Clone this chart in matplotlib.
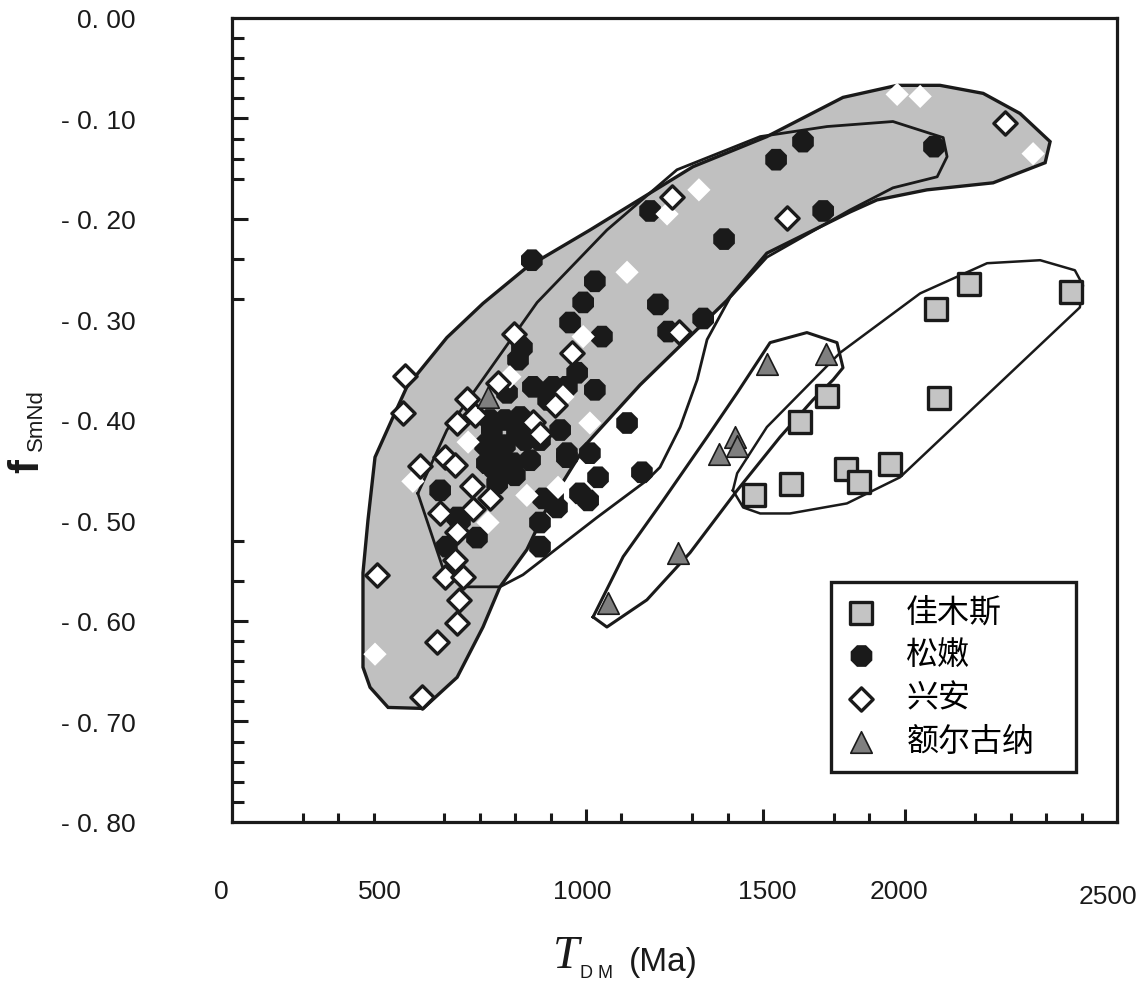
import matplotlib.pyplot as plt
from matplotlib.transforms import blended_transform_factory

plt.rcParams['font.family'] = ['Liberation Sans', 'DejaVu Sans']

# --- data (T_DM in Ma, fSmNd) ---
jiamusi_x = [2082, 2370, 1989, 1681, 1997, 1605, 1859, 1734, 1771, 1579, 1475]
jiamusi_y = [-0.265, -0.273, -0.290, -0.376, -0.378, -0.402, -0.444, -0.449, -0.462, -0.464, -0.475]

songnen_x = [1613, 1537, 1983, 1670, 1181, 1390, 847, 1025, 992, 1203,
             1331, 955, 1045, 1232, 819, 808, 975, 850, 907, 1025,
             777, 893, 814, 1116, 734, 805, 757, 720, 794, 946,
             1011, 1034, 1158, 588, 749, 879, 918, 1006, 644, 870,
             692, 607, 870, 636, 771, 828, 771, 842, 799, 743,
             715, 870, 927, 833, 729, 983, 907, 946, 946]
songnen_y = [-0.123, -0.141, -0.128, -0.192, -0.192, -0.220, -0.241, -0.262, -0.283, -0.285,
             -0.299, -0.303, -0.317, -0.312, -0.328, -0.340, -0.353, -0.367, -0.367, -0.370,
             -0.373, -0.380, -0.397, -0.403, -0.410, -0.413, -0.437, -0.443, -0.443, -0.433,
             -0.433, -0.457, -0.452, -0.470, -0.463, -0.478, -0.487, -0.480, -0.500, -0.502,
             -0.517, -0.526, -0.526, -0.497, -0.400, -0.420, -0.425, -0.440, -0.455, -0.450,
             -0.425, -0.420, -0.410, -0.410, -0.400, -0.473, -0.477, -0.367, -0.437]

# Xing'an diamonds: some drawn with outline, some plain white
xingan_x = [2184, 1243, 1568, 1263, 797, 960, 751, 664, 686, 636,
            912, 850, 870, 602, 630, 531, 678, 729, 681, 588,
            636, 630, 602, 653, 641, 636, 579, 537, 410, 489, 483]
xingan_y = [-0.104, -0.178, -0.199, -0.312, -0.314, -0.333, -0.363, -0.379, -0.395, -0.403,
            -0.385, -0.402, -0.414, -0.437, -0.445, -0.446, -0.466, -0.478, -0.489, -0.493,
            -0.511, -0.539, -0.556, -0.556, -0.579, -0.602, -0.621, -0.676, -0.554, -0.356, -0.393]
xingan_plain_x = [1879, 1944, 2263, 1319, 1229, 1116, 785, 935, 1011, 667, 511, 833, 921, 723, 404, 992]
xingan_plain_y = [-0.076, -0.078, -0.135, -0.171, -0.195, -0.253, -0.357, -0.377, -0.403, -0.422,
                  -0.461, -0.475, -0.467, -0.502, -0.633, -0.317]

eerguna_x = [1511, 1678, 1421, 1427, 1376, 1260, 1062, 723]
eerguna_y = [-0.344, -0.334, -0.417, -0.426, -0.434, -0.532, -0.582, -0.377]

# field outlines
gray_field_x = [540, 441, 390, 370, 370, 384, 404, 455, 494, 607, 709, 833, 1011, 1302, 1511, 1726,
                1879, 2000, 2122, 2226, 2311, 2297, 2150, 1963, 1822, 1746, 1511, 1398, 1322, 1153,
                1003, 890, 833, 757, 709, 636, 540]
gray_field_y = [-0.687, -0.686, -0.666, -0.646, -0.552, -0.500, -0.437, -0.397, -0.367, -0.318, -0.284,
                -0.248, -0.211, -0.148, -0.118, -0.079, -0.067, -0.067, -0.075, -0.095, -0.123, -0.144,
                -0.164, -0.171, -0.181, -0.193, -0.234, -0.281, -0.307, -0.365, -0.423, -0.487, -0.529,
                -0.566, -0.606, -0.656, -0.687]

songnen_field_x = [525, 607, 862, 1059, 1257, 1492, 1681, 1867, 2009, 2020, 1992, 1867, 1746, 1511,
                   1407, 1342, 1314, 1266, 1209, 1172, 1031, 822, 757, 658, 602, 525]
songnen_field_y = [-0.473, -0.410, -0.283, -0.211, -0.151, -0.118, -0.108, -0.103, -0.119, -0.138,
                   -0.158, -0.169, -0.191, -0.238, -0.278, -0.320, -0.360, -0.407, -0.447, -0.460,
                   -0.497, -0.554, -0.566, -0.566, -0.554, -0.473]

eerguna_field_x = [1020, 1105, 1218, 1342, 1427, 1520, 1624, 1709, 1726, 1698, 1641, 1548, 1427,
                   1294, 1172, 1059, 1020]
eerguna_field_y = [-0.596, -0.536, -0.480, -0.417, -0.373, -0.323, -0.313, -0.323, -0.348, -0.360,
                   -0.380, -0.417, -0.470, -0.532, -0.579, -0.606, -0.596]

jiamusi_field_x = [1415, 1427, 1511, 1718, 1944, 2133, 2283, 2381, 2404, 2395, 1887, 1737, 1576,
                   1492, 1444, 1415]
jiamusi_field_y = [-0.470, -0.453, -0.407, -0.333, -0.274, -0.244, -0.241, -0.251, -0.266, -0.288,
                   -0.457, -0.483, -0.493, -0.493, -0.487, -0.470]

# axis ticks / labels
y_label_vals = [0.0, -0.1, -0.2, -0.3, -0.4, -0.5, -0.6, -0.7, -0.8]
y_label_text = ['0. 00', '- 0. 10', '- 0. 20', '- 0. 30', '- 0. 40', '- 0. 50', '- 0. 60', '- 0. 70', '- 0. 80']
y_long_ticks = [-0.10, -0.20, -0.60, -0.70]
y_short_ticks = [-0.02, -0.04, -0.06, -0.08, -0.12, -0.14, -0.16, -0.24, -0.28, -0.52, -0.56,
                 -0.62, -0.64, -0.66, -0.68, -0.72, -0.74, -0.76, -0.78]
x_long_ticks = [1000, 1500, 1900]
x_short_ticks = [200, 300, 400, 600, 700, 800, 900, 1100, 1300, 1400, 1700, 1800, 2100, 2200, 2300, 2400]
x_label_text = ['0', '500', '1000', '1500', '2000', '2500']
x_label_pos = [-31, 418, 989, 1511, 1884, 2475]

fig = plt.figure(figsize=(11.42, 9.85), dpi=100)
ax = fig.add_axes([232 / 1142, 1 - 822 / 985, 885 / 1142, 804 / 985])

# fields
ax.fill(gray_field_x, gray_field_y, facecolor='#c0c0c0', edgecolor='#1a1a1a', linewidth=2.4, zorder=1)
ax.plot(songnen_field_x, songnen_field_y, color='#1a1a1a', linewidth=2.0, zorder=2)
ax.plot(eerguna_field_x, eerguna_field_y, color='#1a1a1a', linewidth=2.2, zorder=2)
ax.plot(jiamusi_field_x, jiamusi_field_y, color='#1a1a1a', linewidth=1.8, zorder=2)

# samples
ax.scatter(songnen_x, songnen_y, marker='8', s=285, color='#1a1a1a', edgecolor='none', zorder=3, label='松嫩')
ax.scatter(xingan_plain_x, xingan_plain_y, marker='D', s=140, color='white', edgecolor='none', zorder=4)
ax.scatter(xingan_x, xingan_y, marker='D', s=140, color='white', edgecolor='#1a1a1a', linewidth=2.4,
           zorder=4, label='兴安')
ax.scatter(jiamusi_x, jiamusi_y, marker='s', s=240, color='#c4c4c4', edgecolor='#1a1a1a', linewidth=2.4,
           zorder=4, label='佳木斯')
ax.scatter(eerguna_x, eerguna_y, marker='^', s=240, color='#7f7f7f', edgecolor='#1a1a1a', linewidth=1.2,
           zorder=5, label='额尔古纳')

ax.set_xlim(0, 2500)
ax.set_ylim(-0.8, 0)

for sp in ax.spines.values():
    sp.set_linewidth(2.3)
    sp.set_color('#1a1a1a')

ax.set_xticks(x_long_ticks)
ax.set_xticks(x_short_ticks, minor=True)
ax.set_yticks(y_long_ticks)
ax.set_yticks(y_short_ticks, minor=True)
ax.tick_params(axis='both', which='both', direction='in', width=2.2, color='#1a1a1a',
               labelbottom=False, labelleft=False)
ax.tick_params(axis='x', which='major', length=9.5)
ax.tick_params(axis='x', which='minor', length=6.5)
ax.tick_params(axis='y', which='major', length=11.5)
ax.tick_params(axis='y', which='minor', length=8.6)

ytr = blended_transform_factory(ax.transAxes, ax.transData)
for v, t in zip(y_label_vals, y_label_text):
    ax.text(-0.1085, v - 0.003, t, transform=ytr, ha='right', va='center', fontsize=19, color='#1a1a1a')

xtr = blended_transform_factory(ax.transData, ax.transAxes)
for v, t in zip(x_label_pos, x_label_text):
    yy = -0.093 if t == '2500' else -0.087
    ax.text(v, yy, t, transform=xtr, ha='center', va='center', fontsize=19, color='#1a1a1a', clip_on=False)

# axis titles
fig.text(566 / 1142, 1 - 957 / 985, 'T', fontsize=34, style='italic', family='Liberation Serif',
         ha='center', va='center', color='#1a1a1a')
fig.text(596 / 1142, 1 - 973 / 985, 'D M', fontsize=13, ha='center', va='center', color='#1a1a1a')
fig.text(663 / 1142, 1 - 962 / 985, '(Ma)', fontsize=24, ha='center', va='center', color='#1a1a1a')
fig.text(27 / 1142, 1 - 466 / 985, 'f', fontsize=30, weight='bold', rotation=90, ha='center', va='center',
         color='#1a1a1a')
fig.text(36 / 1142, 1 - 420 / 985, 'SmNd', fontsize=16, rotation=90, ha='center', va='center',
         color='#1a1a1a')

# legend
h, l = ax.get_legend_handles_labels()
order = [l.index('佳木斯'), l.index('松嫩'), l.index('兴安'), l.index('额尔古纳')]
leg = ax.legend([h[i] for i in order], [l[i] for i in order], loc='upper left',
                bbox_to_anchor=(0.677, 0.0547, 0.277, 0.244), mode='expand',
                prop={'family': ['Noto Sans CJK SC'], 'size': 23}, frameon=True, fancybox=False,
                borderpad=0.45, labelspacing=0.35, handlelength=1.0, handletextpad=0.9,
                borderaxespad=0.0)
leg.get_frame().set_edgecolor('#1a1a1a')
leg.get_frame().set_linewidth(2.4)
leg.get_frame().set_alpha(1.0)

fig.savefig('out.png', dpi=100)
